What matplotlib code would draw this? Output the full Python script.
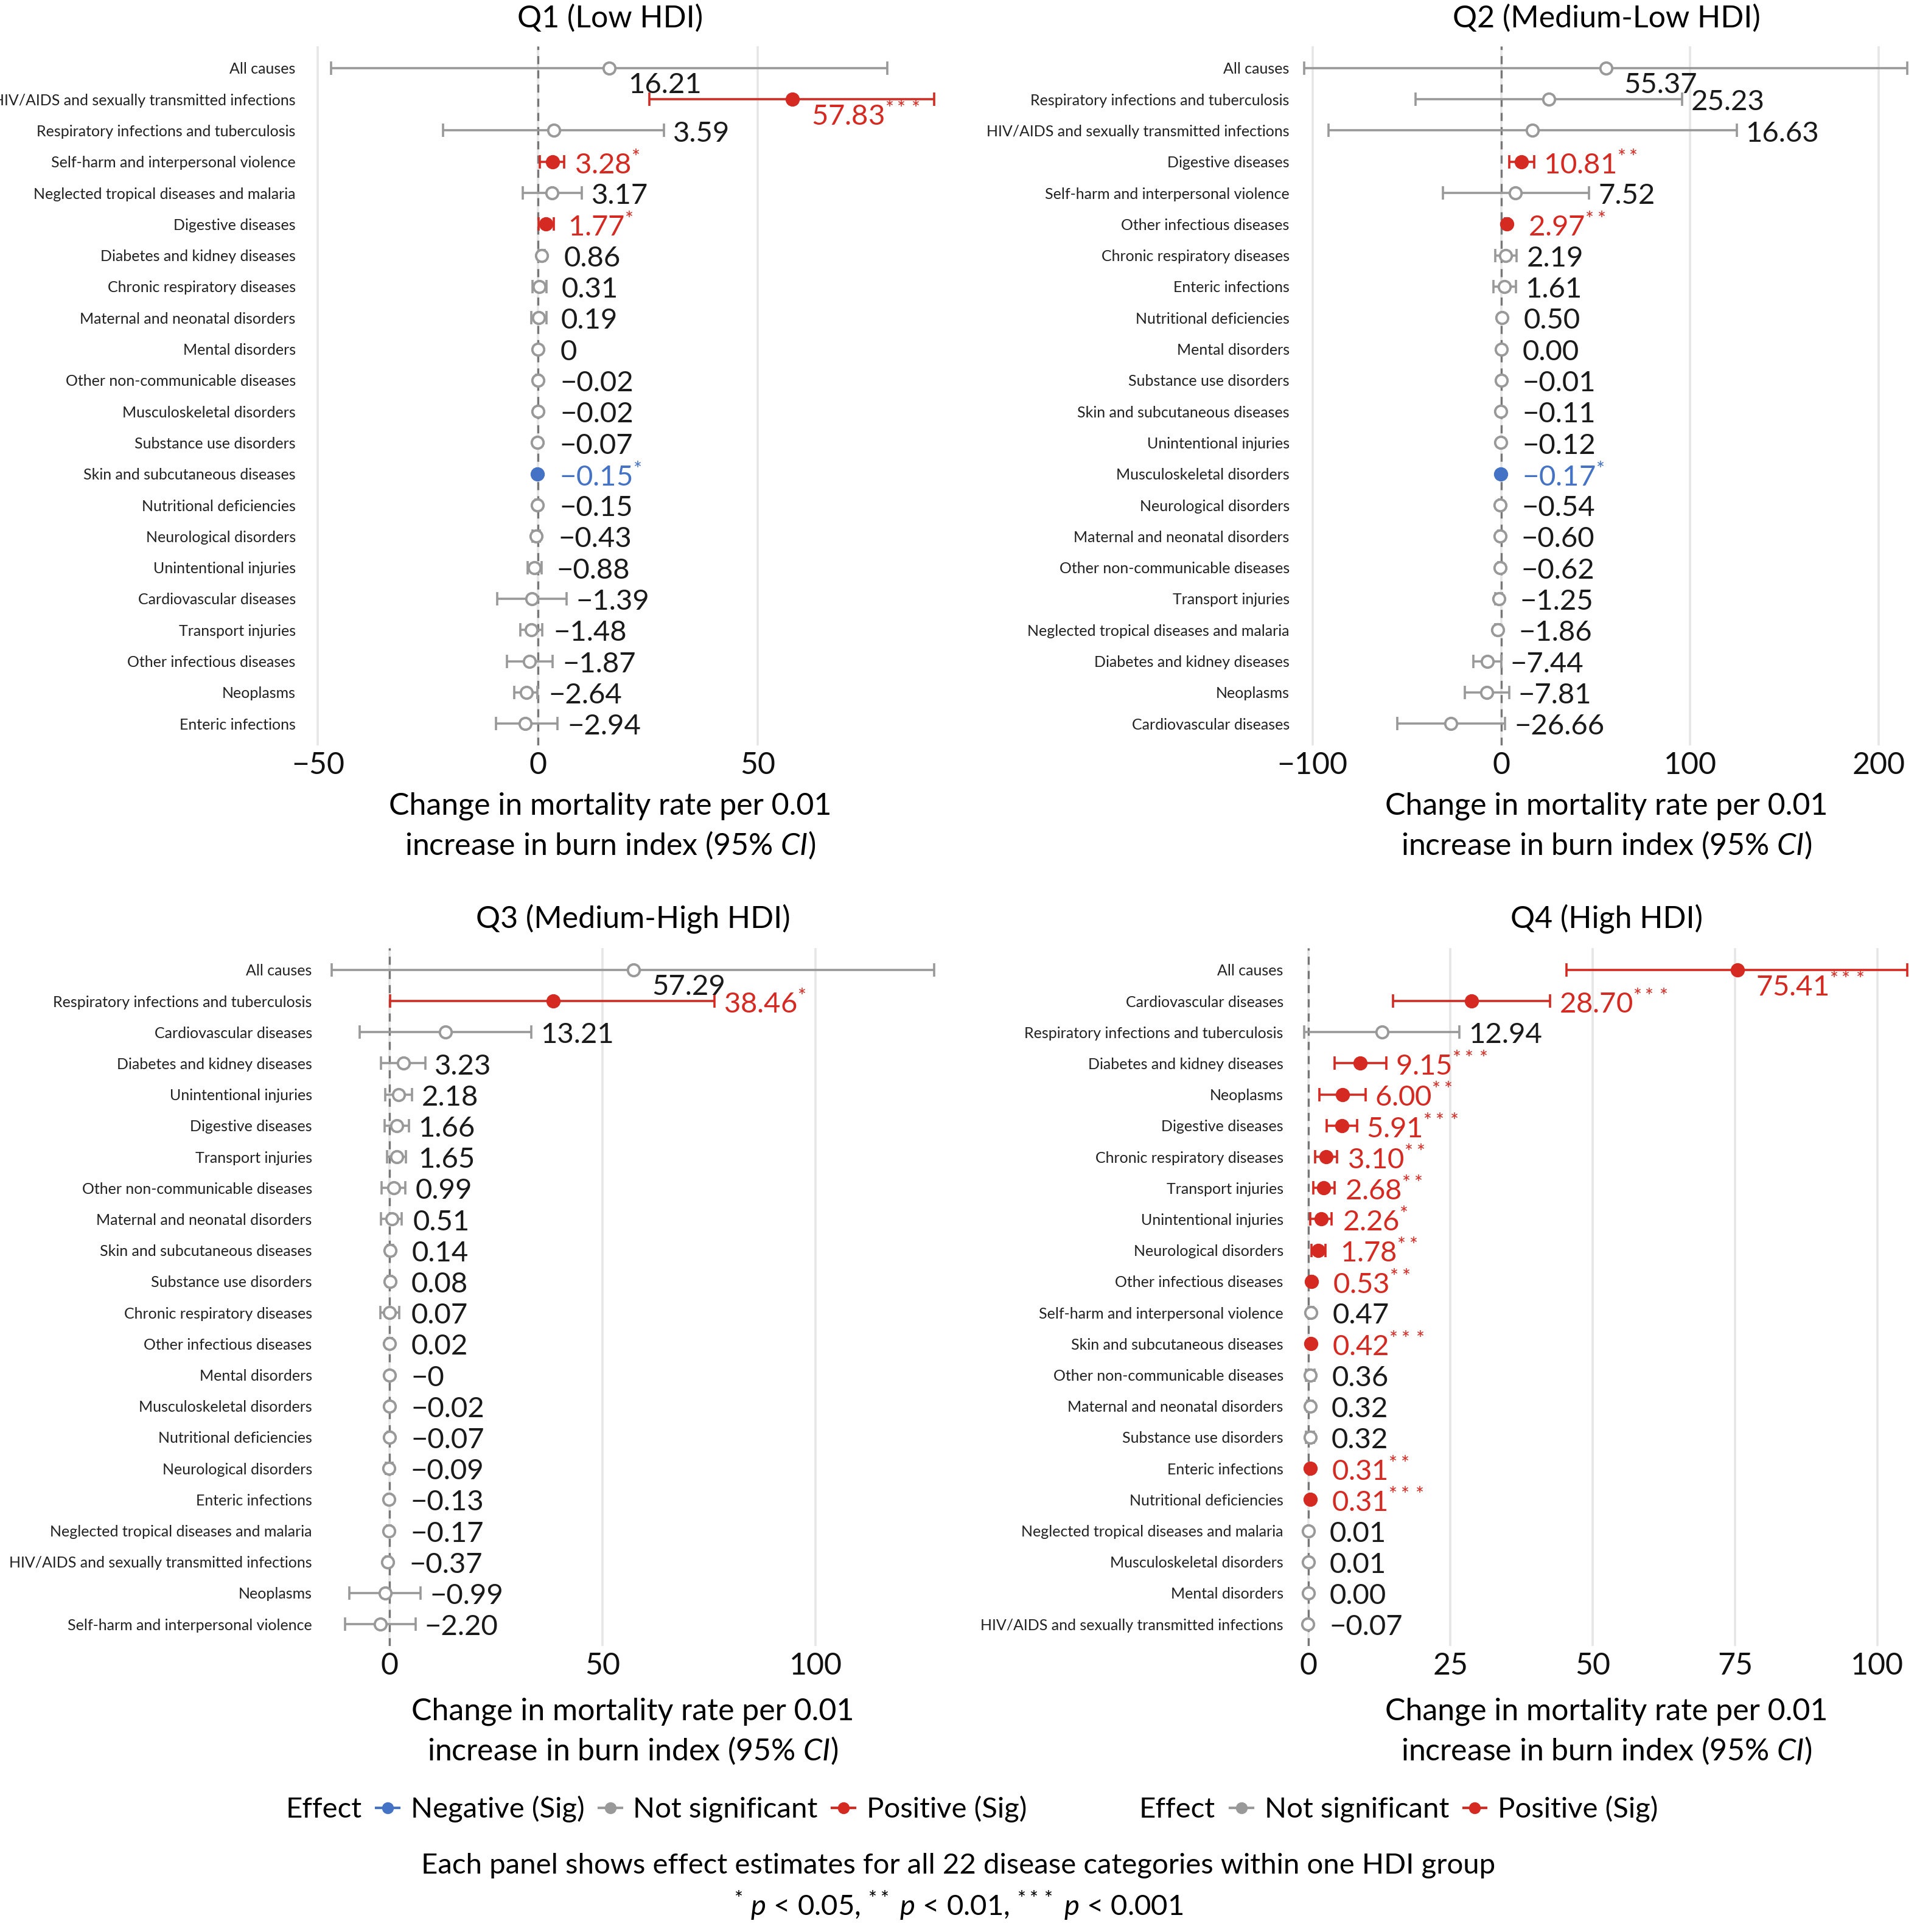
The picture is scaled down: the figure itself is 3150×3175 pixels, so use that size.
import matplotlib
matplotlib.use("Agg")
import matplotlib.pyplot as plt
from matplotlib.lines import Line2D

plt.rcParams['font.family'] = ['Lato', 'DejaVu Sans']
plt.rcParams['mathtext.fontset'] = 'custom'
plt.rcParams['mathtext.rm'] = 'Lato'
plt.rcParams['mathtext.it'] = 'Lato:italic'

# ---------------- data ----------------
q1_cats = ["All causes", "HIV/AIDS and sexually transmitted infections", "Respiratory infections and tuberculosis",
           "Self-harm and interpersonal violence", "Neglected tropical diseases and malaria", "Digestive diseases",
           "Diabetes and kidney diseases", "Chronic respiratory diseases", "Maternal and neonatal disorders",
           "Mental disorders", "Other non-communicable diseases", "Musculoskeletal disorders",
           "Substance use disorders", "Skin and subcutaneous diseases", "Nutritional deficiencies",
           "Neurological disorders", "Unintentional injuries", "Cardiovascular diseases", "Transport injuries",
           "Other infectious diseases", "Neoplasms", "Enteric infections"]
q1_est = [16.21, 57.83, 3.59, 3.28, 3.17, 1.77, 0.86, 0.31, 0.19, 0, -0.02, -0.02, -0.07, -0.15, -0.15, -0.43,
          -0.88, -1.39, -1.48, -1.87, -2.64, -2.94]
q1_lo = [-47, 25.3, -21.6, 0.4, -3.5, 0.2, 0.1, -1.3, -1.5, -0.1, -0.4, -0.1, -0.2, -0.28, -0.6, -1.2, -2.4,
         -9.2, -4.0, -7.0, -5.4, -9.5]
q1_hi = [79.4, 90.1, 28.6, 5.9, 10.0, 3.6, 1.6, 2.0, 1.9, 0.1, 0.4, 0.1, 0.1, -0.02, 0.3, 0.4, 0.9, 6.5, 1.0,
         3.4, -0.1, 4.5]
q1_lab = ["16.21", "57.83", "3.59", "3.28", "3.17", "1.77", "0.86", "0.31", "0.19", "0", "-0.02", "-0.02",
          "-0.07", "-0.15", "-0.15", "-0.43", "-0.88", "-1.39", "-1.48", "-1.87", "-2.64", "-2.94"]
q1_sig = ["", "***", "", "*", "", "*", "", "", "", "", "", "", "", "*", "", "", "", "", "", "", "", ""]

q2_cats = ["All causes", "Respiratory infections and tuberculosis", "HIV/AIDS and sexually transmitted infections",
           "Digestive diseases", "Self-harm and interpersonal violence", "Other infectious diseases",
           "Chronic respiratory diseases", "Enteric infections", "Nutritional deficiencies", "Mental disorders",
           "Substance use disorders", "Skin and subcutaneous diseases", "Unintentional injuries",
           "Musculoskeletal disorders", "Neurological disorders", "Maternal and neonatal disorders",
           "Other non-communicable diseases", "Transport injuries", "Neglected tropical diseases and malaria",
           "Diabetes and kidney diseases", "Neoplasms", "Cardiovascular diseases"]
q2_est = [55.37, 25.23, 16.63, 10.81, 7.52, 2.97, 2.19, 1.61, 0.50, 0.00, -0.01, -0.11, -0.12, -0.17, -0.54,
          -0.60, -0.62, -1.25, -1.86, -7.44, -7.81, -26.66]
q2_lo = [-104.3, -45.4, -91.4, 4.3, -31, 2.0, -3.2, -4.0, 0.0, -0.2, -0.2, -0.3, -0.6, -0.3, -1.2, -1.6, -1.6,
         -3.2, -3.0, -14.6, -19.4, -55]
q2_hi = [215, 95.7, 124.7, 17.6, 46.5, 4.0, 8.2, 7.7, 1.0, 0.2, 0.2, 0.1, 0.4, -0.05, 0.1, 0.4, 0.4, 0.5, -0.7,
         0.0, 4.1, 2.0]
q2_lab = ["55.37", "25.23", "16.63", "10.81", "7.52", "2.97", "2.19", "1.61", "0.50", "0.00", "-0.01", "-0.11",
          "-0.12", "-0.17", "-0.54", "-0.60", "-0.62", "-1.25", "-1.86", "-7.44", "-7.81", "-26.66"]
q2_sig = ["", "", "", "**", "", "**", "", "", "", "", "", "", "", "*", "", "", "", "", "", "", "", ""]

q3_cats = ["All causes", "Respiratory infections and tuberculosis", "Cardiovascular diseases",
           "Diabetes and kidney diseases", "Unintentional injuries", "Digestive diseases", "Transport injuries",
           "Other non-communicable diseases", "Maternal and neonatal disorders", "Skin and subcutaneous diseases",
           "Substance use disorders", "Chronic respiratory diseases", "Other infectious diseases",
           "Mental disorders", "Musculoskeletal disorders", "Nutritional deficiencies", "Neurological disorders",
           "Enteric infections", "Neglected tropical diseases and malaria",
           "HIV/AIDS and sexually transmitted infections", "Neoplasms", "Self-harm and interpersonal violence"]
q3_est = [57.29, 38.46, 13.21, 3.23, 2.18, 1.66, 1.65, 0.99, 0.51, 0.14, 0.08, 0.07, 0.02, -0.001, -0.02, -0.07,
          -0.09, -0.13, -0.17, -0.37, -0.99, -2.20]
q3_lo = [-13.6, 0.2, -7, -2, -1, -1.2, -0.6, -1.8, -2, -0.5, -0.4, -2.2, -0.5, -0.1, -0.3, -0.5, -0.9, -0.5,
         -0.6, -0.8, -9.4, -10.5]
q3_hi = [127.8, 76.3, 33.3, 8.4, 5.3, 4.6, 3.9, 3.7, 2.9, 0.8, 0.6, 2.3, 0.5, 0.1, 0.3, 0.4, 0.7, 0.3, 0.3, 0.1,
         7.3, 6.1]
q3_lab = ["57.29", "38.46", "13.21", "3.23", "2.18", "1.66", "1.65", "0.99", "0.51", "0.14", "0.08", "0.07",
          "0.02", "-0", "-0.02", "-0.07", "-0.09", "-0.13", "-0.17", "-0.37", "-0.99", "-2.20"]
q3_sig = ["", "*", "", "", "", "", "", "", "", "", "", "", "", "", "", "", "", "", "", "", "", ""]

q4_cats = ["All causes", "Cardiovascular diseases", "Respiratory infections and tuberculosis",
           "Diabetes and kidney diseases", "Neoplasms", "Digestive diseases", "Chronic respiratory diseases",
           "Transport injuries", "Unintentional injuries", "Neurological disorders", "Other infectious diseases",
           "Self-harm and interpersonal violence", "Skin and subcutaneous diseases",
           "Other non-communicable diseases", "Maternal and neonatal disorders", "Substance use disorders",
           "Enteric infections", "Nutritional deficiencies", "Neglected tropical diseases and malaria",
           "Musculoskeletal disorders", "Mental disorders", "HIV/AIDS and sexually transmitted infections"]
q4_est = [75.41, 28.70, 12.94, 9.15, 6.00, 5.91, 3.10, 2.68, 2.26, 1.78, 0.53, 0.47, 0.42, 0.36, 0.32, 0.32,
          0.31, 0.31, 0.01, 0.01, 0.00, -0.07]
q4_lo = [45.4, 14.9, -0.7, 4.6, 2.0, 3.2, 1.2, 0.9, 0.4, 0.6, 0.3, 0.0, 0.3, -0.4, -0.2, -0.4, 0.2, 0.2, -0.1,
         -0.1, -0.05, -0.3]
q4_hi = [105.3, 42.5, 26.6, 13.7, 10.1, 8.6, 5.1, 4.6, 4.1, 3.0, 0.8, 0.9, 0.55, 1.1, 0.8, 1.0, 0.4, 0.4, 0.1,
         0.1, 0.05, 0.2]
q4_lab = ["75.41", "28.70", "12.94", "9.15", "6.00", "5.91", "3.10", "2.68", "2.26", "1.78", "0.53", "0.47",
          "0.42", "0.36", "0.32", "0.32", "0.31", "0.31", "0.01", "0.01", "0.00", "-0.07"]
q4_sig = ["***", "***", "", "***", "**", "***", "**", "**", "*", "**", "**", "", "***", "", "", "", "**", "***",
          "", "", "", ""]

titles = ["Q1 (Low HDI)", "Q2 (Medium-Low HDI)", "Q3 (Medium-High HDI)", "Q4 (High HDI)"]
xlims = [(-52, 92), (-105, 216), (-15, 130), (-2, 105.5)]
xticks = [[-50, 0, 50], [-100, 0, 100, 200], [0, 50, 100], [0, 25, 50, 75, 100]]

RED = "#D42A22"
BLUE = "#4472C4"
GREY = "#999999"

W, H = 3150, 3175
fig = plt.figure(figsize=(W / 200, H / 200), dpi=200)

rects = [(508, 76, 1549, 1225), (2141, 76, 3137, 1225), (535, 1558, 1550, 2705), (2131, 1558, 3136, 2705)]
centers = [1003, 2640, 1040, 2640]
panels = [(q1_cats, q1_est, q1_lo, q1_hi, q1_lab, q1_sig),
          (q2_cats, q2_est, q2_lo, q2_hi, q2_lab, q2_sig),
          (q3_cats, q3_est, q3_lo, q3_hi, q3_lab, q3_sig),
          (q4_cats, q4_est, q4_lo, q4_hi, q4_lab, q4_sig)]

for i, (cats, est, lo, hi, lab, sig) in enumerate(panels):
    l, t, r, b = rects[i]
    ax = fig.add_axes([l / W, 1 - b / H, (r - l) / W, (b - t) / H])
    n = len(cats)
    x0, x1 = xlims[i]
    R = x1 - x0
    ax.set_xlim(x0, x1)
    ax.set_ylim(n - 0.3, -0.7)
    ax.axvline(0, color="#777777", ls=(0, (4, 3)), lw=1.2, zorder=1)
    for j in range(n):
        s = sig[j]
        if s:
            col = RED if est[j] > 0 else BLUE
            face = col
            tcol = col
        else:
            col = GREY
            face = "white"
            tcol = "#1a1a1a"
        ax.errorbar(est[j], j, xerr=[[est[j] - lo[j]], [hi[j] - est[j]]], fmt="none", ecolor=col,
                    elinewidth=1.3, capsize=4, capthick=1.3, zorder=2)
        ax.plot(est[j], j, "o", ms=7, mfc=face, mec=col, mew=1.4, zorder=3)
        txt = lab[j].replace("-", "\u2212")
        if s:
            label = r"$\mathregular{" + txt.replace("\u2212", "-") + "^{" + s + "}}$"
        else:
            label = txt
        xl = max(est[j] + 0.035 * R, hi[j] + 0.015 * R)
        yl = j + 0.1
        if xl + 0.2 * R > x1:
            xl = est[j] + 0.03 * R
            yl = j + 0.55
        ax.text(xl, yl, label, color=tcol, fontsize=17, va="center", ha="left", zorder=4)
    ax.set_yticks(range(n))
    ax.set_yticklabels(cats, fontsize=9, color="#222222")
    ax.set_xticks(xticks[i])
    ax.set_xticklabels([str(v).replace("-", "\u2212") for v in xticks[i]], fontsize=18, color="#111111")
    ax.tick_params(length=0, axis="both")
    ax.tick_params(axis="y", pad=8)
    ax.grid(axis="x", color="#e6e6e6", lw=1.3, zorder=0)
    ax.set_axisbelow(True)
    for sp in ax.spines.values():
        sp.set_visible(False)
    fig.text(centers[i] / W, 1 - (30 if i < 2 else 1510) / H, titles[i], ha="center", va="center", fontsize=18)
    yb = 1325 if i < 2 else 2813
    fig.text(centers[i] / W, 1 - yb / H, "Change in mortality rate per 0.01", ha="center", va="center",
             fontsize=18)
    fig.text(centers[i] / W, 1 - (yb + 64) / H, r"increase in burn index (95% $\mathit{CI}$)", ha="center",
             va="center", fontsize=18)


def handle(c):
    return Line2D([0], [0], color=c, marker="o", ms=6, lw=1.5)


blank = Line2D([0], [0], color="none")
fig.legend([blank, handle(BLUE), handle(GREY), handle(RED)],
           ["Effect", "Negative (Sig)", "Not significant", "Positive (Sig)"],
           loc="center", bbox_to_anchor=(1050 / W, 1 - 2973 / H), ncol=4, frameon=False, fontsize=17,
           handlelength=0.8, handletextpad=0.4, columnspacing=0.5)
fig.legend([blank, handle(GREY), handle(RED)], ["Effect", "Not significant", "Positive (Sig)"],
           loc="center", bbox_to_anchor=(2270 / W, 1 - 2973 / H), ncol=3, frameon=False, fontsize=17,
           handlelength=0.8, handletextpad=0.4, columnspacing=0.5)
fig.text(0.5, 1 - 3066 / H, "Each panel shows effect estimates for all 22 disease categories within one HDI group",
         ha="center", va="center", fontsize=17)
fig.text(0.5, 1 - 3132 / H,
         r"$^{*}$ $\mathit{p}$ < 0.05, $^{**}$ $\mathit{p}$ < 0.01, $^{***}$ $\mathit{p}$ < 0.001",
         ha="center", va="center", fontsize=17)

fig.savefig("out.png", dpi=200, facecolor="white")
